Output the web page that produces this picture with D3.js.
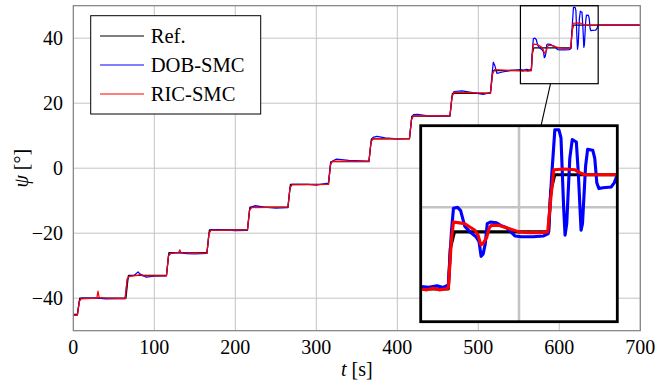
<!DOCTYPE html>
<html>
<head>
<meta charset="utf-8">
<title>psi tracking</title>
<script src="https://d3js.org/d3.v7.min.js"></script>
<style>
body { margin: 0; background: #fff; }
</style>
</head>
<body>
<script>
// data (t in s, psi in deg)
var xTicks = [0, 100, 200, 300, 400, 500, 600, 700];
var yTicks = [-40, -20, 0, 20, 40];
var seriesNames = ["Ref.", "DOB-SMC", "RIC-SMC"];
var seriesColors = ["#000000", "#0000ff", "#ff0000"];

var refT = [0, 5, 8, 65, 68, 115, 118, 165, 168, 215, 218, 265, 268, 315, 318, 365, 368, 415, 418, 465, 468, 515, 518, 565.5, 566.5, 568.5, 614.5, 615.5, 617.5, 700];
var refY = [-45, -45, -40, -40, -33, -33, -26, -26, -19, -19, -12, -12, -5, -5, 2, 2, 9, 9, 16, 16, 23, 23, 30, 30, 35, 37, 37, 42, 44, 44];

var dobT = [0, 5, 7.5, 10, 30, 40, 64, 66.5, 69, 75, 80, 82, 90, 100, 115, 117.5, 120, 130, 140, 150, 165, 167.5, 170, 180, 200, 215, 217.5, 220, 225, 235, 250, 265, 267.5, 270, 290, 300, 315, 317.5, 320, 325, 340, 365, 367.5, 370, 375, 385, 400, 415, 417.5, 420, 425, 440, 465, 467.5, 470, 480, 495, 506, 515, 517, 518.5, 520.5, 523, 530, 540,
  552, 556, 560, 563, 565.5, 567, 568, 570, 571.5, 573.5, 576, 579, 580.5, 581.5, 582.5, 583.5, 584.5, 586, 589, 591, 594, 596, 598, 601, 607, 612, 614.3, 616, 617.5, 619.5, 620.5, 621.8, 622.5, 623.3, 624.8, 626, 628, 629, 630.3, 631, 632.5, 633.5, 636, 637, 638, 639, 641, 645, 646.5, 648, 650, 700];
var dobY = [-45.2, -45.2, -40.8, -40.0, -40.0, -40.2, -40.1, -34.5, -33.2, -33.0, -31.9, -32.5, -33.5, -33.2, -33.1, -27.0, -26.2, -26.0, -26.3, -26.4, -26.2, -20.0, -19.0, -18.9, -19.2, -19.1, -13.0, -11.9, -11.5, -12.0, -12.3, -12.1, -6.0, -5.0, -5.0, -5.2, -4.6, 1.5, 2.2, 2.8, 2.4, 2.2, 8.0, 9.5, 9.8, 9.3, 9.0, 9.2, 15.0, 16.5, 16.6, 16.0, 16.2, 22.0, 23.6, 23.8, 23.2, 22.7, 23.3, 29.0, 32.6, 31.5, 29.2, 29.6, 30.1,
  30.3, 30.2, 30.4, 30.2, 30.5, 37.0, 39.9, 40.0, 39.6, 37.7, 37.0, 36.4, 35.8, 34.0, 34.3, 35.5, 38.0, 38.2, 38.1, 37.8, 37.5, 37.0, 36.5, 36.4, 36.4, 36.5, 36.8, 44.0, 49.5, 49.5, 48.5, 40.0, 36.6, 38.0, 46.0, 48.3, 48.0, 44.0, 37.2, 38.0, 45.0, 47.1, 47.0, 46.0, 43.0, 42.3, 42.4, 42.5, 43.0, 44.0, 44.0, 44.0];

var ricT = [0, 5, 7.5, 9.5, 29, 30.5, 32, 40, 64, 66.5, 69, 80, 82, 85, 115, 117.5, 120, 130, 131.5, 133, 165, 167.5, 170, 215, 217.5, 220, 265, 267.5, 270, 315, 317.5, 320, 365, 367.5, 370, 415, 417.5, 420, 465, 467.5, 470, 515, 517.5, 520,
  552, 555, 558, 561, 564, 565.5, 567, 568, 571, 573.6, 576, 578.5, 580, 581.4, 582.5, 584.2, 585.5, 586.6, 590, 595, 600, 605, 610, 614, 615.5, 617, 622, 627.4, 630, 632, 640, 700];
var ricY = [-45.2, -45.2, -41.0, -40.2, -40.0, -37.8, -39.8, -40.0, -40.1, -34.0, -33.3, -33.0, -32.7, -33.1, -33.1, -27.0, -26.2, -26.0, -25.1, -26.0, -26.1, -20.0, -19.1, -19.0, -13.0, -12.1, -12.0, -6.0, -5.1, -5.0, 1.0, 2.2, 2.1, 8.0, 9.1, 9.1, 15.0, 16.1, 16.1, 22.0, 23.3, 23.1, 29.0, 30.3,
  30.0, 29.9, 30.1, 29.9, 30.0, 30.1, 36.0, 38.2, 38.1, 38.0, 37.6, 37.2, 36.6, 35.4, 35.6, 36.3, 37.5, 37.8, 37.8, 37.4, 37.0, 36.9, 36.9, 37.0, 41.0, 44.6, 44.7, 44.6, 44.2, 44.0, 44.0, 44.0];

var spyX = [552, 648];
var spyY = [26, 50];

//######## layout
var W = 657, H = 385;
var L = 73.3, R = 640.3, T = 5.7, B = 330.7;
var inset = {x0: 420.7, x1: 617.3, y0: 125.7, y1: 321.7};
var FONT = "\"Liberation Serif\"";

var svg = d3.select("body").append("svg").attr("width", W).attr("height", H)
  .style("font-family", FONT);
var defs = svg.append("defs");

var x = d3.scaleLinear().domain([0, 700]).range([L, R]);
var y = d3.scaleLinear().domain([-50, 50]).range([B, T]);

var series = [
  {t: refT, v: refY},
  {t: dobT, v: dobY},
  {t: ricT, v: ricY}
];

// draws grid + curves inside a clipped box; k scales line widths
function drawPlot(g, xs, ys, k, clipId) {
  var r = [xs.range()[0], ys.range()[1], xs.range()[1] - xs.range()[0], ys.range()[0] - ys.range()[1]];
  defs.append("clipPath").attr("id", clipId).append("rect")
    .attr("x", r[0]).attr("y", r[1]).attr("width", r[2]).attr("height", r[3]);
  var c = g.append("g").attr("clip-path", "url(#" + clipId + ")");
  c.selectAll("line.gx").data(xTicks).enter().append("line")
    .attr("x1", function(d){return xs(d);}).attr("x2", function(d){return xs(d);})
    .attr("y1", r[1]).attr("y2", r[1] + r[3])
    .attr("stroke", "#c4c4c4").attr("stroke-width", 1 * k);
  c.selectAll("line.gy").data(yTicks).enter().append("line")
    .attr("y1", function(d){return ys(d);}).attr("y2", function(d){return ys(d);})
    .attr("x1", r[0]).attr("x2", r[0] + r[2])
    .attr("stroke", "#c4c4c4").attr("stroke-width", 1 * k);
  var line = d3.line().x(function(d){return xs(d[0]);}).y(function(d){return ys(d[1]);});
  series.forEach(function(s, i){
    c.append("path")
      .attr("d", line(d3.zip(s.t, s.v)))
      .attr("fill", "none")
      .attr("stroke", seriesColors[i])
      .attr("stroke-width", 1.25 * k)
      .attr("stroke-linejoin", "round");
  });
}

drawPlot(svg.append("g"), x, y, 1, "clipMain");

// axis frame
svg.append("rect").attr("x", L).attr("y", T).attr("width", R - L).attr("height", B - T)
  .attr("fill", "none").attr("stroke", "#7f7f7f").attr("stroke-width", 1.2);

// tick labels
svg.selectAll("text.xt").data(xTicks).enter().append("text")
  .style("font-family", FONT).style("font-size", "20px")
  .attr("x", function(d){return x(d);}).attr("y", 353.5)
  .attr("text-anchor", "middle")
  .text(function(d){return d;});
svg.selectAll("text.yt").data(yTicks).enter().append("text")
  .style("font-family", FONT).style("font-size", "20px")
  .attr("x", 63).attr("y", function(d){return y(d);}).attr("dy", "0.33em")
  .attr("text-anchor", "end")
  .text(function(d){return d < 0 ? "\u2212" + Math.abs(d) : d;});

// axis labels
var xl = svg.append("text").attr("x", (L + R) / 2).attr("y", 375.5)
  .style("font-family", FONT).style("font-size", "20px").attr("text-anchor", "middle");
xl.append("tspan").style("font-style", "italic").text("t");
xl.append("tspan").text(" [s]");
var yl = svg.append("text").attr("transform", "translate(28," + ((T + B) / 2) + ") rotate(-90)")
  .style("font-family", FONT).style("font-size", "20px").attr("text-anchor", "middle");
yl.append("tspan").style("font-style", "italic").text("\u03c8");
yl.append("tspan").text(" [\u00b0]");

// legend
var lg = svg.append("g");
lg.append("rect").attr("x", 90.7).attr("y", 15.7).attr("width", 170).attr("height", 98.3)
  .attr("fill", "#fff").attr("stroke", "#000").attr("stroke-width", 1);
seriesNames.forEach(function(n, i){
  var yy = 36 + 29 * i;
  lg.append("line").attr("x1", 100).attr("x2", 144).attr("y1", yy).attr("y2", yy)
    .attr("stroke", seriesColors[i]).attr("stroke-width", 1.2);
  lg.append("text").style("font-family", FONT).style("font-size", "20.6px")
    .attr("x", 150.7).attr("y", yy + 6.9).text(n);
});

// spy box + connector + magnified inset
var sx0 = x(spyX[0]), sx1 = x(spyX[1]), sy0 = y(spyY[1]), sy1 = y(spyY[0]);
var c1 = [(sx0 + sx1) / 2, (sy0 + sy1) / 2];
var c2 = [(inset.x0 + inset.x1) / 2, (inset.y0 + inset.y1) / 2];
var ta = (sy1 - c1[1]) / (c2[1] - c1[1]), tb = (inset.y0 - c1[1]) / (c2[1] - c1[1]);
svg.append("line")
  .attr("x1", c1[0] + ta * (c2[0] - c1[0])).attr("y1", sy1)
  .attr("x2", c1[0] + tb * (c2[0] - c1[0])).attr("y2", inset.y0)
  .attr("stroke", "#000").attr("stroke-width", 1.1);
svg.append("rect").attr("x", sx0).attr("y", sy0).attr("width", sx1 - sx0).attr("height", sy1 - sy0)
  .attr("fill", "none").attr("stroke", "#000").attr("stroke-width", 1.2);

var xi = d3.scaleLinear().domain(spyX).range([inset.x0, inset.x1]);
var yi = d3.scaleLinear().domain(spyY).range([inset.y1, inset.y0]);
var ig = svg.append("g");
ig.append("rect").attr("x", inset.x0).attr("y", inset.y0)
  .attr("width", inset.x1 - inset.x0).attr("height", inset.y1 - inset.y0).attr("fill", "#fff");
drawPlot(ig, xi, yi, 2.5, "clipInset");
ig.append("rect").attr("x", inset.x0).attr("y", inset.y0)
  .attr("width", inset.x1 - inset.x0).attr("height", inset.y1 - inset.y0)
  .attr("fill", "none").attr("stroke", "#000").attr("stroke-width", 2.8);
</script>
</body>
</html>
